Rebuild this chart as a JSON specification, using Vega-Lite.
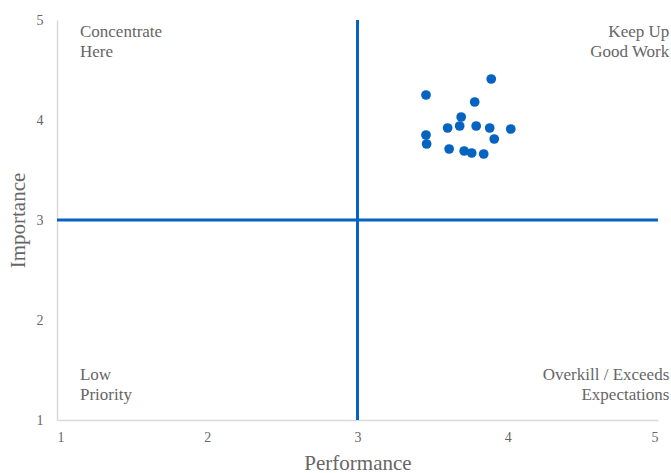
{
  "$schema": "https://vega.github.io/schema/vega-lite/v6.json",
  "width": 601,
  "height": 400,
  "autosize": {"type": "none"},
  "padding": {"left": 57, "top": 20, "right": 13, "bottom": 53},
  "config": {
    "view": {"stroke": null},
    "font": "Liberation Serif, serif",
    "axis": {
      "domainColor": "#d9d9d9",
      "domainWidth": 1.5,
      "ticks": false,
      "grid": false,
      "labelColor": "#666666",
      "labelFont": "Liberation Serif, serif",
      "labelFontSize": 14,
      "titleColor": "#666666",
      "titleFont": "Liberation Serif, serif",
      "titleFontSize": 21,
      "titleFontWeight": "normal",
      "format": "d"
    }
  },
  "layer": [
    {
      "data": {"values": [
        {"performance": 3.89, "importance": 4.41},
        {"performance": 3.456, "importance": 4.25},
        {"performance": 3.78, "importance": 4.18},
        {"performance": 3.69, "importance": 4.03},
        {"performance": 3.68, "importance": 3.94},
        {"performance": 3.60, "importance": 3.92},
        {"performance": 3.79, "importance": 3.94},
        {"performance": 3.88, "importance": 3.92},
        {"performance": 4.02, "importance": 3.91},
        {"performance": 3.456, "importance": 3.85},
        {"performance": 3.46, "importance": 3.76},
        {"performance": 3.91, "importance": 3.81},
        {"performance": 3.61, "importance": 3.71},
        {"performance": 3.71, "importance": 3.69},
        {"performance": 3.76, "importance": 3.67},
        {"performance": 3.84, "importance": 3.66}
      ]},
      "mark": {"type": "point", "filled": true, "opacity": 1, "size": 95, "color": "#0563C1"},
      "encoding": {
        "x": {"field": "performance", "type": "quantitative", "title": "Performance",
              "scale": {"domain": [1, 5], "nice": false, "zero": false},
              "axis": {"values": [1, 2, 3, 4, 5], "format": "d", "labelPadding": 10, "titlePadding": 8}},
        "y": {"field": "importance", "type": "quantitative", "title": "Importance",
              "scale": {"domain": [1, 5], "nice": false, "zero": false},
              "axis": {"values": [1, 2, 3, 4, 5], "format": "d", "labelPadding": 14, "titlePadding": 8}}
      }
    },
    {
      "data": {"values": [{"v": 3}]},
      "mark": {"type": "rule", "color": "#0563C1", "strokeWidth": 3},
      "encoding": {"x": {"field": "v", "type": "quantitative"}}
    },
    {
      "data": {"values": [{"v": 3}]},
      "mark": {"type": "rule", "color": "#0563C1", "strokeWidth": 3},
      "encoding": {"y": {"field": "v", "type": "quantitative"}}
    },
    {
      "data": {"values": [
        {"px": 1.153, "py": 4.96, "label": "Concentrate\nHere"},
        {"px": 1.153, "py": 1.53, "label": "Low\nPriority"}
      ]},
      "mark": {"type": "text", "align": "left", "baseline": "top", "lineBreak": "\n", "fontSize": 17, "lineHeight": 20, "color": "#666666", "font": "Liberation Serif, serif"},
      "encoding": {
        "x": {"field": "px", "type": "quantitative"},
        "y": {"field": "py", "type": "quantitative"},
        "text": {"field": "label"}
      }
    },
    {
      "data": {"values": [
        {"px": 5.075, "py": 4.96, "label": "Keep Up\nGood Work"},
        {"px": 5.075, "py": 1.53, "label": "Overkill / Exceeds\nExpectations"}
      ]},
      "mark": {"type": "text", "align": "right", "baseline": "top", "lineBreak": "\n", "fontSize": 17, "lineHeight": 20, "color": "#666666", "font": "Liberation Serif, serif"},
      "encoding": {
        "x": {"field": "px", "type": "quantitative"},
        "y": {"field": "py", "type": "quantitative"},
        "text": {"field": "label"}
      }
    }
  ]
}
